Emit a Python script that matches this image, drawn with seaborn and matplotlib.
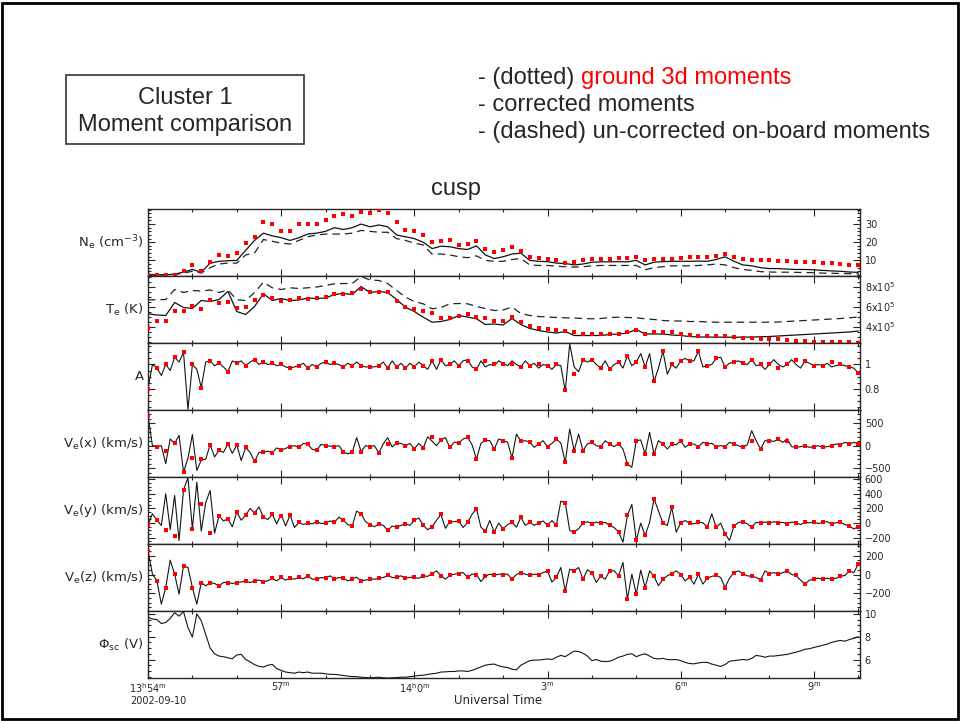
import matplotlib.pyplot as plt
import numpy as np
import seaborn as sns
from matplotlib.patches import Rectangle
from matplotlib.ticker import FixedLocator, MultipleLocator

# Cluster 1 cusp crossing, 2002-09-10, time in minutes after 13:54 UT
# slow series every 12 s (ground 3d dots, Ne/Te), fast series every 6 s

# Ne (cm^-3)
ne_ground = [2, 2, 2, 2.2, 4, 7.5, 4, 9, 12.8, 12.5,
             14, 19.5, 23, 31, 30, 26, 26, 30, 30, 30,
             32, 34.5, 35.5, 34.5, 36.5, 36, 37.5, 36, 31, 27,
             26, 24, 20, 20.5, 21.5, 18.5, 19, 20.5, 16, 14.5,
             15.5, 17.5, 15, 11.7, 11.3, 11, 10, 8.5, 9, 10,
             10.5, 11, 11, 11.2, 11.5, 12, 10, 10.5, 11, 11,
             11.5, 12, 12, 12, 12.5, 13.5, 12, 11, 10, 10,
             10, 9.5, 9.5, 9, 9, 9, 8.5, 8.5, 8, 7.5,
             7.5]
ne_corr = [2, 2, 2, 2.5, 3.5, 5, 3.5, 8.5, 9.5, 9.8,
           10, 15.5, 21, 25, 23.5, 22.5, 21, 22.5, 24.5, 25,
           26, 28, 27, 28, 30, 28.5, 29.5, 28.5, 24, 23,
           22, 20, 16.5, 17.8, 17.5, 16.5, 16, 18, 13, 11,
           12, 13.5, 14, 10, 9.5, 9.3, 8.5, 8.3, 7.5, 8,
           9, 9.2, 9.2, 9.3, 9.2, 10, 7.5, 9, 9.3, 9.5,
           9.5, 9.5, 9.6, 9.5, 10.5, 12, 9.5, 7.5, 7, 6,
           5.5, 5.5, 5.2, 5, 5, 4.8, 4.5, 4.2, 4, 3.6,
           3.4]
ne_onboard = [2, 2, 2, 2.2, 3, 4, 3, 6, 8, 8.5,
              8.5, 13, 14, 21.5, 20.5, 19.5, 19, 21, 23, 24,
              24.5, 24.5, 24.5, 25, 26.5, 26, 25.5, 25.5, 22, 21,
              19.5, 18.5, 13.5, 13.5, 13, 12, 11.5, 12.5, 10, 9.5,
              9.5, 10.5, 11, 7.5, 7.2, 7.2, 6.8, 6.5, 6.3, 6.5,
              7, 7.2, 7.2, 7.2, 7.2, 7.2, 4.8, 6, 6.5, 7,
              7, 7, 7.2, 7.5, 8, 7.5, 6, 5, 4.5, 3.8,
              3.6, 3.5, 3.5, 3.4, 3.3, 3.2, 3, 2.9, 2.8, 2.7,
              2.6]

# Te (1e5 K)
te_ground = [3.87, 4.6, 4.6, 5.6, 5.6, 6.1, 5.8, 6.67, 6.4, 6.5,
             5.9, 5.95, 6.7, 7.17, 6.9, 6.6, 6.63, 6.9, 6.8, 6.9,
             7.0, 7.27, 7.3, 7.4, 7.77, 7.5, 7.45, 7.5, 6.6, 5.93,
             5.77, 5.6, 5.33, 4.87, 4.9, 5.1, 5.3, 4.93, 4.9, 4.53,
             4.55, 5.0, 4.5, 4.05, 3.85, 3.75, 3.65, 3.55, 3.45, 3.3,
             3.27, 3.3, 3.3, 3.27, 3.43, 3.7, 3.27, 3.5, 3.5, 3.43,
             3.27, 3.15, 3.1, 3.1, 3.1, 3.05, 3.0, 2.87, 2.87, 2.8,
             2.77, 2.72, 2.65, 2.6, 2.55, 2.5, 2.47, 2.45, 2.42, 2.42,
             2.4]
te_corr = [5.27, 5.15, 5.1, 6.4, 5.9, 5.8, 6.6, 6.5, 6.7, 7.5,
           5.5, 5.2, 6.0, 7.27, 6.6, 6.8, 6.6, 6.65, 6.85, 6.8,
           6.85, 7.2, 7.3, 7.2, 8.0, 7.4, 7.5, 7.4, 6.7, 5.93,
           5.5, 4.93, 4.43, 4.5, 4.7, 5.1, 4.95, 4.77, 4.2, 4.25,
           4.15, 4.8, 4.2, 3.8, 3.6, 3.45, 3.35, 3.5, 3.1, 3.1,
           3.1, 3.1, 3.2, 3.25, 3.35, 3.7, 3.25, 3.25, 3.25, 3.15,
           3.1, 3.0, 2.95, 2.95, 2.93, 2.93, 2.93, 2.93, 2.95, 2.97,
           3.0, 3.05, 3.1, 3.15, 3.2, 3.25, 3.3, 3.35, 3.4, 3.45,
           3.55]
te_onboard = [6.67, 6.67, 6.7, 7.7, 7.4, 7.6, 7.55, 7.65, 7.4, 7.65,
              6.67, 6.6, 7.4, 8.43, 7.87, 7.7, 7.87, 7.8, 7.87, 7.95,
              8.1, 8.27, 8.3, 8.3, 9.0, 8.65, 8.6, 8.3, 7.6, 6.93,
              6.5, 6.27, 5.77, 5.9, 6.27, 6.3, 6.27, 6.0, 5.8, 5.6,
              5.65, 5.95, 5.3, 5.1, 5.0, 4.95, 4.9, 4.87, 4.85, 4.8,
              4.77, 4.8, 4.9, 4.93, 4.9, 4.87, 4.77, 4.7, 4.6, 4.55,
              4.55, 4.5, 4.5, 4.45, 4.43, 4.43, 4.43, 4.43, 4.43, 4.43,
              4.43, 4.45, 4.5, 4.55, 4.6, 4.65, 4.7, 4.75, 4.8, 4.87,
              4.95]

# anisotropy A
a_ground = [0.80, 0.97, 1.00, 1.06, 1.10, 1.00, 0.81, 1.03, 1.01, 0.94,
            1.01, 0.99, 1.04, 1.02, 1.01, 1.00, 0.97, 0.99, 0.97, 0.98,
            1.02, 1.01, 0.98, 0.99, 0.99, 0.98, 0.99, 0.97, 0.98, 0.97,
            0.98, 0.99, 1.03, 1.04, 1.00, 0.99, 1.03, 0.96, 1.03, 1.00,
            1.00, 1.00, 0.98, 0.99, 1.00, 0.99, 1.00, 0.79, 0.92, 1.04,
            1.04, 0.97, 0.96, 1.02, 1.07, 1.02, 0.98, 0.86, 1.11, 1.00,
            1.03, 1.03, 1.11, 0.99, 1.05, 0.98, 1.02, 1.01, 1.04, 1.00,
            1.00, 0.97, 1.00, 1.04, 1.03, 0.99, 0.99, 1.02, 1.00, 0.98,
            0.93]
a_corr = [0.80, 1.00, 0.97, 0.91, 1.00, 0.95, 1.06, 1.02, 1.10, 0.63,
          1.00, 0.96, 0.81, 1.02, 1.03, 0.99, 1.01, 0.98, 0.94, 1.03,
          1.01, 1.03, 0.99, 1.02, 1.04, 1.00, 1.02, 1.00, 1.01, 0.99,
          1.00, 0.98, 0.97, 0.98, 0.99, 1.01, 0.97, 1.00, 0.98, 1.01,
          1.02, 1.00, 1.01, 1.00, 0.98, 1.01, 0.99, 1.02, 0.99, 0.98,
          0.98, 0.98, 0.99, 1.02, 0.97, 1.03, 0.98, 1.01, 0.97, 1.01,
          0.98, 1.02, 0.99, 0.96, 1.03, 0.96, 1.04, 0.99, 1.00, 1.03,
          0.99, 1.03, 1.04, 0.98, 0.96, 1.03, 0.98, 1.00, 0.99, 1.03,
          1.01, 0.99, 1.03, 1.00, 0.98, 1.03, 0.99, 1.01, 0.97, 1.00,
          0.99, 0.96, 1.00, 0.99, 0.78, 1.17, 0.98, 0.94, 1.04, 1.02,
          1.04, 1.00, 0.97, 1.03, 0.96, 1.00, 1.02, 0.97, 1.07, 0.99,
          1.02, 1.09, 0.98, 1.09, 0.86, 0.97, 1.11, 0.92, 1.00, 0.97,
          1.03, 1.05, 1.03, 1.03, 1.11, 0.98, 0.99, 1.00, 1.05, 1.06,
          0.98, 1.01, 1.02, 1.03, 1.01, 1.00, 1.04, 0.99, 1.00, 0.96,
          1.00, 1.04, 1.00, 0.98, 1.00, 1.04, 1.00, 0.97, 1.03, 1.01,
          0.99, 1.00, 0.99, 1.01, 0.98, 0.99, 1.00, 0.99, 0.98, 0.97,
          0.93]

# Ve components (km/s)
vx_ground = [666, -20, -111, 50, -590, -274, -300, 20, -100, 40,
             20, -40, -350, -150, -160, -100, -20, -40, 30, -100,
             0, -20, -140, -150, -130, -20, -160, 40, 60, 0,
             -70, -50, 200, 130, -40, 60, 185, -296, 126, -74,
             110, -274, 100, 80, 40, -22, 148, -370, -111, -111,
             74, -20, 40, 37, -407, 111, -185, -185, 37, 37,
             111, 37, -22, 37, -20, -22, 37, -37, 111, -74,
             111, 140, 100, -37, 0, -22, -37, 0, 20, 40,
             44]
vx_corr = [666, 0, -20, 0, -400, 150, 50, 230, -590, -280,
           250, -550, -320, -300, 20, -250, -100, -150, 40, -170,
           20, -330, -40, -150, -350, -150, -150, -120, -160, -50,
           -100, -60, -20, 0, -40, 50, 30, -80, -100, 30,
           0, -10, -20, 0, -140, -180, -150, 180, -130, 0,
           -20, 0, -160, 40, 180, -30, 60, 50, 0, 50,
           -70, 50, -50, 200, 100, 0, 130, 180, -40, 80,
           60, 150, 185, 20, -296, 50, 126, 110, -74, 148,
           110, 80, -274, 259, 100, 110, 80, -37, 40, 111,
           -22, 50, 148, 60, -370, 370, -111, 259, -111, 40,
           74, 0, -20, 111, 40, -20, 37, -74, -407, -481,
           111, 126, -185, 296, -185, 111, 37, -74, 37, 22,
           111, -37, 37, 37, -22, 74, 37, 52, -20, 0,
           -22, 74, 37, 0, -37, 20, 333, 111, -74, 111,
           111, 96, 140, 74, 155, -22, -37, -22, 0, -37,
           -22, 0, -37, -22, 0, 37, 20, 74, 40, 74,
           44]

vy_ground = [-27, 40, -100, -170, 455, -77, 264, -137, 100, 60,
             150, 110, 140, 80, 120, 100, 110, 10, 0, 20,
             0, 10, 40, -40, 130, -20, -10, -100, -55, -10,
             40, -30, -50, 118, 20, 30, 10, 196, -110, -120,
             -77, 10, 80, 10, 0, -30, -30, 280, -123, 0,
             -10, -5, -30, -120, 105, -237, -168, 332, 0, 218,
             0, 0, 15, -55, -55, -146, -40, 20, -55, 5,
             0, 5, -10, 5, 10, 15, 10, -10, 10, -40,
             -50]
vy_corr = [-27, 128, 40, -32, 400, -90, 378, -238, 455, 618,
           -77, 560, -109, 280, 446, -137, 100, 30, 60, -50,
           150, 40, 110, 200, 140, 220, 80, 50, 120, -10,
           120, -40, 110, -60, 10, -20, 0, -10, 20, -5,
           0, 30, 10, 82, 40, -20, -40, 164, 130, 20,
           -20, -50, -10, -30, -100, -40, -55, -30, -10, -30,
           40, 70, -30, -90, -50, 40, 118, -70, 20, 20,
           30, -60, 10, 120, 196, -55, -110, 36, -120, 0,
           -77, -20, 10, -55, 80, -30, 10, -30, 0, 30,
           -30, 36, -30, 300, 280, -100, -123, -77, 0, 20,
           -10, 15, -5, 10, -30, -60, -120, -260, 105, 255,
           -237, 0, -168, 10, 332, 164, 0, -32, 218, -123,
           0, 36, 0, -10, 15, 5, -55, 127, -55, 0,
           -146, -237, -40, 10, 20, -10, -55, 10, 5, 15,
           0, 20, 5, 10, -10, 15, 5, -20, 10, 5,
           15, -5, 10, 20, -10, 5, 10, -20, -40, -80,
           -50]

vz_ground = [253, -68, -139, 4, 93, -139, -86, -86, -121, -86,
             -86, -70, -68, -75, -40, -32, -40, -32, -14, -50,
             -40, -50, -40, -50, -68, -50, -40, -10, -32, -40,
             -32, -14, 10, -14, -10, 10, -32, 0, -20, -10,
             0, -50, 20, -10, 0, 39, -30, -175, 39, -50,
             20, -14, 40, -14, -264, -210, -139, -20, -50, 10,
             0, -30, 4, -40, -10, -139, 20, 10, -20, -60,
             10, 4, 39, -10, -103, -50, -50, -50, -20, 39,
             110]
vz_corr = [253, 4, -68, -317, -139, 153, 4, -210, 93, 75,
           -139, -317, -86, -121, -86, -96, -121, -86, -86, -96,
           -86, -80, -70, -86, -68, -60, -75, -68, -40, -68,
           -32, -60, -40, -50, -32, -45, -14, -50, -50, -32,
           -40, -14, -50, -32, -40, -68, -50, -28, -68, -60,
           -50, -50, -40, -32, -10, -32, -32, -14, -40, -30,
           -32, -40, -14, -20, 10, 39, -14, -50, -10, 4,
           10, 21, -32, 4, 0, -75, -20, 4, -10, 4,
           0, 4, -50, 0, 20, 4, -10, 4, 0, 20,
           39, -80, -30, 75, -175, 57, 39, 75, -50, 50,
           20, -85, -14, -50, 40, 40, -14, 129, -264, 4,
           -210, 46, -139, 39, -20, -120, -50, -14, 10, 39,
           0, -68, -30, -103, 4, -103, -40, -20, -10, -32,
           -139, -40, 20, 39, 10, -14, -20, -30, -60, 39,
           10, 20, 4, 20, 39, 0, -10, -60, -103, -60,
           -50, -40, -50, -40, -50, -40, -20, -10, 39, 20,
           110]

# spacecraft potential (V)
phi_sc = [9.71, 9.55, 9.5, 9.15, 9.25, 9.6, 10.1, 9.8, 10.2, 8.8,
          7.96, 10.0, 9.4, 8.2, 7.0, 6.5, 6.3, 6.25, 6.15, 6.07,
          6.4, 6.45, 6.0, 5.8, 5.55, 5.4, 5.34, 5.5, 5.57, 5.2,
          5.05, 4.9, 4.85, 4.8, 4.9, 4.85, 4.9, 4.8, 4.8, 4.8,
          4.75, 4.7, 4.7, 4.65, 4.6, 4.55, 4.5, 4.5, 4.45, 4.42,
          4.4, 4.42, 4.45, 4.4, 4.38, 4.4, 4.42, 4.45, 4.45, 4.5,
          4.55, 4.6, 4.62, 4.7, 4.75, 4.8, 4.9, 4.92, 4.95, 4.95,
          5.0, 5.0, 4.95, 5.05, 5.2, 5.35, 5.5, 5.57, 5.6, 5.45,
          5.35, 5.3, 5.15, 5.1, 5.5, 5.7, 5.9, 5.95, 5.95, 6.0,
          6.05, 6.0, 6.2, 6.36, 6.25, 6.5, 6.74, 6.7, 6.55, 6.3,
          5.9, 6.0, 5.85, 5.82, 5.85, 6.0, 6.2, 6.3, 6.45, 6.5,
          6.25, 6.4, 6.5, 6.3, 6.1, 6.05, 6.1, 6.0, 5.98, 6.0,
          5.9, 5.75, 5.65, 5.62, 5.7, 5.75, 5.75, 5.6, 5.5, 5.4,
          5.55, 5.85, 5.9, 5.95, 6.0, 5.95, 6.1, 6.36, 6.3, 6.2,
          6.3, 6.3, 6.35, 6.4, 6.45, 6.55, 6.65, 6.75, 6.9, 6.95,
          7.05, 7.15, 7.24, 7.35, 7.5, 7.6, 7.67, 7.6, 7.75, 7.85,
          8.0]

x_ticks = [0, 3, 6, 9, 12, 15]
x_ticklabels = [r'13$^{\mathrm{h}}$54$^{\mathrm{m}}$', r'57$^{\mathrm{m}}$',
                r'14$^{\mathrm{h}}$0$^{\mathrm{m}}$', r'3$^{\mathrm{m}}$',
                r'6$^{\mathrm{m}}$', r'9$^{\mathrm{m}}$']

t_slow = np.arange(len(ne_ground)) * 0.2
t_fast = np.arange(len(a_corr)) * 0.1

sns.set_style("ticks")
plt.rcParams['font.family'] = ['DejaVu Sans']
plt.rcParams['axes.linewidth'] = 1.0

W, H = 960, 721
fig = plt.figure(figsize=(W / 100, H / 100), dpi=100)

# label, ylim, major ticks, tick labels, minor step
panels = [
    (r'N$_\mathrm{e}$ (cm$^{-3}$)', (1.4, 38.3), [10, 20, 30], ['10', '20', '30'], 2),
    (r'T$_\mathrm{e}$ (K)', (2.35, 9.05), [4, 6, 8], ['4x10$^5$', '6x10$^5$', '8x10$^5$'], 0.5),
    ('A', (0.625, 1.177), [0.8, 1.0], ['0.8', '1'], 0.05),
    (r'V$_\mathrm{e}$(x) (km/s)', (-696, 793), [-500, 0, 500], ['\u2212500', '0', '500'], 100),
    (r'V$_\mathrm{e}$(y) (km/s)', (-285, 630), [-200, 0, 200, 400, 600],
     ['\u2212200', '0', '200', '400', '600'], 50),
    (r'V$_\mathrm{e}$(z) (km/s)', (-390, 326), [-200, 0, 200], ['\u2212200', '0', '200'], 50),
    (r'$\Phi_{\mathrm{sc}}$ (V)', (4.38, 10.25), [6, 8, 10], ['6', '8', '10'], 0.5),
]

axes = []
for i, (label, ylim, ticks, labels, minor) in enumerate(panels):
    ax = fig.add_axes([148 / W, 1 - (209 + 67 * (i + 1)) / H, 712 / W, 67 / H])
    ax.set_xlim(0, 16.04)
    ax.set_ylim(*ylim)
    ax.yaxis.set_major_locator(FixedLocator(ticks))
    ax.set_yticklabels(labels)
    ax.yaxis.set_minor_locator(MultipleLocator(minor))
    ax.xaxis.set_major_locator(FixedLocator(x_ticks))
    ax.xaxis.set_minor_locator(MultipleLocator(1))
    ax.tick_params(which='both', direction='in', top=True, bottom=True, left=True, right=True,
                   labelleft=False, labelright=True, labelbottom=(i == 6), labelsize=7, width=0.8)
    ax.tick_params(which='major', length=5)
    ax.tick_params(which='minor', length=2.5)
    ax.text(-0.006, 0.5, label, transform=ax.transAxes, ha='right', va='center', fontsize=9.5)
    axes.append(ax)

# Ne and Te: ground dots, corrected (solid), on-board (dashed)
for ax, ground, corr, onboard in [(axes[0], ne_ground, ne_corr, ne_onboard),
                                  (axes[1], te_ground, te_corr, te_onboard)]:
    sns.lineplot(x=t_slow, y=onboard, ax=ax, color='#222222', linewidth=0.9,
                 linestyle=(0, (6, 4)), errorbar=None)
    sns.lineplot(x=t_slow, y=corr, ax=ax, color='#111111', linewidth=0.9, errorbar=None)
    sns.scatterplot(x=t_slow, y=ground, ax=ax, color='red', marker='s', s=5, linewidth=0, zorder=3)

# A and velocities: corrected (solid) with ground dots
for ax, ground, corr in [(axes[2], a_ground, a_corr), (axes[3], vx_ground, vx_corr),
                         (axes[4], vy_ground, vy_corr), (axes[5], vz_ground, vz_corr)]:
    sns.lineplot(x=t_fast, y=corr, ax=ax, color='#151515', linewidth=0.8, errorbar=None)
    sns.scatterplot(x=t_slow, y=ground, ax=ax, color='red', marker='s', s=5, linewidth=0, zorder=3)

# spacecraft potential
sns.lineplot(x=t_fast, y=phi_sc, ax=axes[6], color='#151515', linewidth=0.8, errorbar=None)

for ax in axes:
    ax.set_xlabel('')
    ax.set_ylabel('')
axes[6].set_xticklabels(x_ticklabels)
axes[6].tick_params(axis='x', which='major', pad=2)

fig.text(158 / W, 1 - 701 / H, '2002-09-10', ha='center', va='center', fontsize=7)
fig.text(498 / W, 1 - 700 / H, 'Universal Time', ha='center', va='center', fontsize=8.5)

# slide annotations
head = dict(fontsize=17, family='Liberation Sans')
fig.text(456 / W, 1 - 189 / H, 'cusp', ha='center', va='center', **head)
fig.text(185 / W, 1 - 98 / H, 'Cluster 1', ha='center', va='center', **head)
fig.text(185 / W, 1 - 125 / H, 'Moment comparison', ha='center', va='center', **head)
fig.add_artist(Rectangle((66 / W, 1 - 144 / H), 238 / W, 69 / H, transform=fig.transFigure,
                         fill=False, edgecolor='#333333', linewidth=1.2))

l1 = fig.text(478 / W, 1 - 84 / H, '- (dotted)', va='baseline', **head)
axes[0].annotate('ground 3d moments', xy=(1, 0), xycoords=l1, xytext=(4.7, 0),
                 textcoords='offset points', va='bottom', color='red', **head)
fig.text(478 / W, 1 - 111 / H, '- corrected moments', va='baseline', **head)
fig.text(478 / W, 1 - 138 / H, '- (dashed) un-corrected on-board moments', va='baseline', **head)

fig.add_artist(Rectangle((1.5 / W, 2.5 / H), 956 / W, 716 / H, transform=fig.transFigure,
                         fill=False, edgecolor='black', linewidth=2))

fig.savefig('out.png', dpi=100)
